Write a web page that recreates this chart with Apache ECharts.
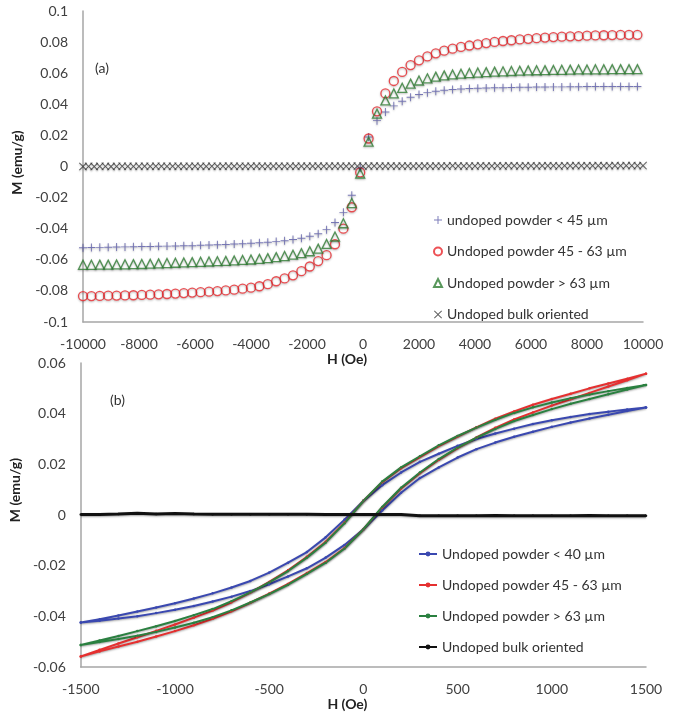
<!DOCTYPE html>
<html>
<head>
<meta charset="utf-8">
<script src="https://cdn.jsdelivr.net/npm/echarts@6.0.0/dist/echarts.min.js"></script>
<style>
  html, body { margin: 0; padding: 0; background: #fff; }
  #chart { width: 677px; height: 712px; }
</style>
</head>
<body>
<div id="chart"></div>
<script>
// ---- panel (a): field sweep -10000..10000 Oe
const aH = [-10000,-9700,-9400,-9100,-8800,-8500,-8200,-7900,-7600,-7300,-7000,-6700,-6400,-6100,-5800,-5500,-5200,-4900,-4600,-4300,-4000,-3700,-3400,-3100,-2800,-2500,-2200,-1900,-1600,-1300,-1000,-700,-400,-100,200,500,800,1100,1400,1700,2000,2300,2600,2900,3200,3500,3800,4100,4400,4700,5000,5300,5600,5900,6200,6500,6800,7100,7400,7700,8000,8300,8600,8900,9200,9500,9800];

const aSmall = [-0.0522,-0.0521,-0.0520,-0.0519,-0.0518,-0.0517,-0.0516,-0.0515,-0.0514,-0.0513,-0.0512,-0.0511,-0.0510,-0.0509,-0.0507,-0.0505,-0.0503,-0.0501,-0.0499,-0.0497,-0.0494,-0.0491,-0.0487,-0.0483,-0.0477,-0.0470,-0.0461,-0.0449,-0.0432,-0.0406,-0.0360,-0.0295,-0.0185,-0.0010,0.0190,0.0295,0.0350,0.0390,0.0420,0.0445,0.0463,0.0475,0.0484,0.0490,0.0495,0.0498,0.0501,0.0503,0.0505,0.0506,0.0507,0.0508,0.0509,0.0510,0.0511,0.0511,0.0512,0.0512,0.0513,0.0513,0.0514,0.0514,0.0514,0.0515,0.0515,0.0515,0.0515];

const aMid = [-0.0833,-0.0833,-0.0832,-0.0831,-0.0830,-0.0829,-0.0828,-0.0826,-0.0824,-0.0822,-0.0820,-0.0817,-0.0814,-0.0811,-0.0808,-0.0805,-0.0801,-0.0797,-0.0792,-0.0786,-0.0779,-0.0770,-0.0757,-0.0738,-0.0720,-0.0700,-0.0673,-0.0643,-0.0608,-0.0570,-0.0500,-0.0400,-0.0262,-0.0038,0.0180,0.0355,0.0470,0.0550,0.0608,0.0652,0.0683,0.0708,0.0728,0.0745,0.0758,0.0769,0.0778,0.0786,0.0794,0.0801,0.0807,0.0812,0.0817,0.0821,0.0825,0.0829,0.0832,0.0835,0.0837,0.0839,0.0841,0.0843,0.0844,0.0845,0.0846,0.0847,0.0847];

const aLarge = [-0.0632,-0.0632,-0.0631,-0.0631,-0.0630,-0.0629,-0.0628,-0.0627,-0.0625,-0.0623,-0.0621,-0.0619,-0.0617,-0.0615,-0.0613,-0.0611,-0.0609,-0.0607,-0.0604,-0.0601,-0.0598,-0.0594,-0.0589,-0.0583,-0.0576,-0.0567,-0.0557,-0.0545,-0.0528,-0.0498,-0.0450,-0.0365,-0.0235,-0.0045,0.0160,0.0340,0.0425,0.0470,0.0506,0.0533,0.0553,0.0567,0.0578,0.0586,0.0592,0.0597,0.0601,0.0604,0.0607,0.0610,0.0612,0.0614,0.0616,0.0618,0.0619,0.0620,0.0621,0.0622,0.0623,0.0624,0.0624,0.0625,0.0625,0.0626,0.0626,0.0626,0.0626];

const aBulkH = [-10000,-9800,-9600,-9400,-9200,-9000,-8800,-8600,-8400,-8200,
  -8000,-7800,-7600,-7400,-7200,-7000,-6800,-6600,-6400,-6200,
  -6000,-5800,-5600,-5400,-5200,-5000,-4800,-4600,-4400,-4200,
  -4000,-3800,-3600,-3400,-3200,-3000,-2800,-2600,-2400,-2200,
  -2000,-1800,-1600,-1400,-1200,-1000,-800,-600,-400,-200,
  0,200,400,600,800,1000,1200,1400,1600,1800,
  2000,2200,2400,2600,2800,3000,3200,3400,3600,3800,
  4000,4200,4400,4600,4800,5000,5200,5400,5600,5800,
  6000,6200,6400,6600,6800,7000,7200,7400,7600,7800,
  8000,8200,8400,8600,8800,9000,9200,9400,9600,9800,10000];

const aBulk = [0.0000,0.0001,0.0000,0.0001,0.0001,0.0000,0.0001,0.0002,0.0001,0.0001,
  0.0001,0.0002,0.0001,0.0002,0.0002,0.0001,0.0002,0.0002,0.0001,0.0002,
  0.0002,0.0002,0.0001,0.0002,0.0002,0.0002,0.0003,0.0002,0.0002,0.0002,
  0.0002,0.0003,0.0002,0.0002,0.0003,0.0002,0.0002,0.0003,0.0002,0.0003,
  0.0002,0.0003,0.0003,0.0002,0.0003,0.0003,0.0003,0.0002,0.0003,0.0003,
  0.0003,0.0003,0.0004,0.0003,0.0003,0.0004,0.0003,0.0004,0.0004,0.0003,
  0.0004,0.0004,0.0003,0.0004,0.0004,0.0004,0.0005,0.0004,0.0004,0.0004,
  0.0004,0.0005,0.0004,0.0004,0.0005,0.0004,0.0005,0.0005,0.0004,0.0005,
  0.0005,0.0004,0.0005,0.0005,0.0005,0.0004,0.0005,0.0005,0.0006,0.0005,
  0.0005,0.0005,0.0006,0.0005,0.0005,0.0006,0.0005,0.0006,0.0006,0.0005,0.0006];

const aNames = ['undoped powder < 45 µm', 'Undoped powder 45 - 63 µm', 'Undoped powder > 63 µm', 'Undoped bulk oriented'];

// ---- panel (b): loop, down branch 1500 -> -1500 then up branch -1500 -> 1500
const hDown = [1500,1400,1300,1200,1100,1000,900,800,700,600,500,400,300,200,100,0,-100,-200,-300,-400,-500,-600,-700,-800,-900,-1000,-1100,-1200,-1300,-1400,-1500];
const hUp = [-1500,-1400,-1300,-1200,-1100,-1000,-900,-800,-700,-600,-500,-400,-300,-200,-100,0,100,200,300,400,500,600,700,800,900,1000,1100,1200,1300,1400,1500];

const bSmallDown = [0.0424,0.0417,0.0408,0.0399,0.0387,0.0374,0.0359,0.0341,0.0322,0.0300,0.0273,0.0242,0.0210,0.0168,0.0118,0.0056,-0.0018,-0.0088,-0.0146,-0.0188,-0.0227,-0.0260,-0.0286,-0.0309,-0.0329,-0.0348,-0.0365,-0.0381,-0.0396,-0.0411,-0.0424];
const bSmallUp = [-0.0424,-0.0417,-0.0408,-0.0399,-0.0387,-0.0374,-0.0359,-0.0341,-0.0322,-0.0300,-0.0273,-0.0242,-0.0210,-0.0168,-0.0118,-0.0056,0.0018,0.0088,0.0146,0.0188,0.0227,0.0260,0.0286,0.0309,0.0329,0.0348,0.0365,0.0381,0.0396,0.0411,0.0424];

const bMidDown = [0.0558,0.0538,0.0519,0.0500,0.0479,0.0458,0.0435,0.0409,0.0380,0.0346,0.0310,0.0272,0.0229,0.0185,0.0130,0.0056,-0.0030,-0.0105,-0.0165,-0.0218,-0.0264,-0.0306,-0.0344,-0.0377,-0.0405,-0.0432,-0.0457,-0.0482,-0.0507,-0.0532,-0.0558];
const bMidUp = [-0.0558,-0.0538,-0.0519,-0.0500,-0.0479,-0.0458,-0.0435,-0.0409,-0.0380,-0.0346,-0.0310,-0.0272,-0.0229,-0.0185,-0.0130,-0.0056,0.0030,0.0105,0.0165,0.0218,0.0264,0.0306,0.0344,0.0377,0.0405,0.0432,0.0457,0.0482,0.0507,0.0532,0.0558];

const bLargeDown = [0.0513,0.0501,0.0489,0.0476,0.0461,0.0444,0.0425,0.0403,0.0376,0.0345,0.0312,0.0275,0.0232,0.0188,0.0132,0.0056,-0.0032,-0.0108,-0.0168,-0.0221,-0.0266,-0.0305,-0.0340,-0.0371,-0.0395,-0.0418,-0.0439,-0.0458,-0.0477,-0.0495,-0.0513];
const bLargeUp = [-0.0513,-0.0501,-0.0489,-0.0476,-0.0461,-0.0444,-0.0425,-0.0403,-0.0376,-0.0345,-0.0312,-0.0275,-0.0232,-0.0188,-0.0132,-0.0056,0.0032,0.0108,0.0168,0.0221,0.0266,0.0305,0.0340,0.0371,0.0395,0.0418,0.0439,0.0458,0.0477,0.0495,0.0513];

const bBulk = [0.0002,0.0002,0.0004,0.0007,0.0004,0.0006,0.0004,0.0003,0.0003,0.0003,0.0003,0.0003,0.0003,0.0002,0.0002,0.0002,0.0002,0.0002,-0.0003,-0.0003,-0.0003,-0.0003,-0.0002,-0.0003,-0.0003,-0.0003,-0.0003,-0.0002,-0.0003,-0.0003,-0.0003];

const bNames = ['Undoped powder < 40 µm', 'Undoped powder 45 - 63 µm\u200b', 'Undoped powder > 63 µm\u200b', 'Undoped bulk oriented\u200b'];

// ---- helpers / styles
const pts = (xs, ys) => xs.map((x, i) => [x, ys[i]]);
const loop = (down, up) => pts(hDown, down).concat(pts(hUp, up));
const font = 'Lato';
const axisGrey = '#a6a6a6';
const plusPath = 'path://M4.4,0H5.6V4.4H10V5.6H5.6V10H4.4V5.6H0V4.4H4.4Z';
const crossPath = 'path://M0.8,0L5,4.2L9.2,0L10,0.8L5.8,5L10,9.2L9.2,10L5,5.8L0.8,10L0,9.2L4.2,5L0,0.8Z';
const shadow = { shadowBlur: 2, shadowColor: 'rgba(0,0,0,0.35)', shadowOffsetY: 1 };
const numFmt = v => String(+v.toFixed(2));

function xAxisCfg(idx, min, max, step, gap) {
  return {
    gridIndex: idx, type: 'value', min: min, max: max, interval: step,
    axisLine: { onZero: false, lineStyle: { color: axisGrey, width: 1.5 } },
    axisTick: { show: false }, splitLine: { show: false },
    axisLabel: { color: '#404040', fontSize: 14, fontFamily: font, margin: 15, formatter: v => String(v) },
    name: 'H (Oe)', nameLocation: 'middle', nameGap: gap,
    nameTextStyle: { color: '#222', fontSize: 14, fontWeight: 'bold', fontFamily: font, padding: [0, 32, 0, 0] }
  };
}
function yAxisCfg(idx, min, max, step, gap, pad) {
  return {
    gridIndex: idx, type: 'value', min: min, max: max, interval: step,
    axisLine: { show: true, onZero: false, lineStyle: { color: axisGrey, width: 1.5 } },
    axisTick: { show: false }, splitLine: { show: false },
    axisLabel: { color: '#404040', fontSize: 14, fontFamily: font, margin: 15, formatter: numFmt },
    name: 'M (emu/g)', nameLocation: 'middle', nameGap: gap,
    nameTextStyle: { color: '#222', fontSize: 14, fontWeight: 'bold', fontFamily: font, padding: pad }
  };
}
function lineSeries(name, data, color, width) {
  return {
    type: 'line', name: name, xAxisIndex: 1, yAxisIndex: 1, data: data,
    symbol: 'circle', symbolSize: 2.5, showSymbol: true, animation: false,
    lineStyle: Object.assign({ color: color, width: width }, shadow),
    itemStyle: { color: color }
  };
}

const chart = echarts.init(document.getElementById('chart'));
chart.setOption({
  backgroundColor: '#fff',
  animation: false,
  grid: [
    { left: 83, right: 34, top: 11, height: 311 },
    { left: 78, right: 31, top: 363, height: 308 }
  ],
  xAxis: [
    xAxisCfg(0, -10000, 10000, 2000, 30),
    xAxisCfg(1, -1500, 1500, 500, 27)
  ],
  yAxis: [
    yAxisCfg(0, -0.1, 0.1, 0.02, 52, [0, 0, 0, 8]),
    yAxisCfg(1, -0.06, 0.06, 0.02, 48, [0, 0, 0, 50])
  ],
  legend: [
    {
      data: aNames, orient: 'vertical', left: 428, top: 207, itemWidth: 8, itemHeight: 8, itemGap: 15.5,
      itemStyle: { shadowBlur: 0, shadowOffsetY: 0 },
      selectedMode: false, textStyle: { fontFamily: font, fontSize: 14, color: '#333', lineHeight: 16 }
    },
    {
      data: bNames, orient: 'vertical', left: 413, top: 541, itemWidth: 18, itemHeight: 6, itemGap: 15,
      selectedMode: false, textStyle: { fontFamily: font, fontSize: 14, color: '#333', lineHeight: 16 }
    }
  ],
  graphic: [
    { type: 'text', left: 95, top: 61, style: { text: '(a)', fontSize: 14, fontFamily: font, fill: '#333' } },
    { type: 'text', left: 110, top: 393, style: { text: '(b)', fontSize: 14, fontFamily: font, fill: '#333' } }
  ],
  series: [
    {
      type: 'scatter', name: aNames[0], xAxisIndex: 0, yAxisIndex: 0, data: pts(aH, aSmall),
      symbol: plusPath, symbolSize: 8, itemStyle: Object.assign({ color: '#5a5aa8' }, shadow)
    },
    {
      type: 'scatter', name: aNames[1], xAxisIndex: 0, yAxisIndex: 0, data: pts(aH, aMid),
      symbol: 'circle', symbolSize: 9,
      itemStyle: Object.assign({ color: 'rgba(255,255,255,0)', borderColor: '#e8262a', borderWidth: 1.3 }, shadow)
    },
    {
      type: 'scatter', name: aNames[2], xAxisIndex: 0, yAxisIndex: 0, data: pts(aH, aLarge),
      symbol: 'triangle', symbolSize: 9,
      itemStyle: Object.assign({ color: 'rgba(255,255,255,0)', borderColor: '#2e7d32', borderWidth: 1.3 }, shadow)
    },
    {
      type: 'scatter', name: aNames[3], xAxisIndex: 0, yAxisIndex: 0, data: pts(aBulkH, aBulk),
      symbol: crossPath, symbolSize: 8, itemStyle: Object.assign({ color: '#333' }, shadow)
    },
    lineSeries(bNames[0], loop(bSmallDown, bSmallUp), '#3a48b0', 2),
    lineSeries(bNames[1], loop(bMidDown, bMidUp), '#e53030', 2),
    lineSeries(bNames[2], loop(bLargeDown, bLargeUp), '#2a8040', 2),
    lineSeries(bNames[3], pts(hUp, bBulk), '#111', 3)
  ]
});
</script>
</body>
</html>
